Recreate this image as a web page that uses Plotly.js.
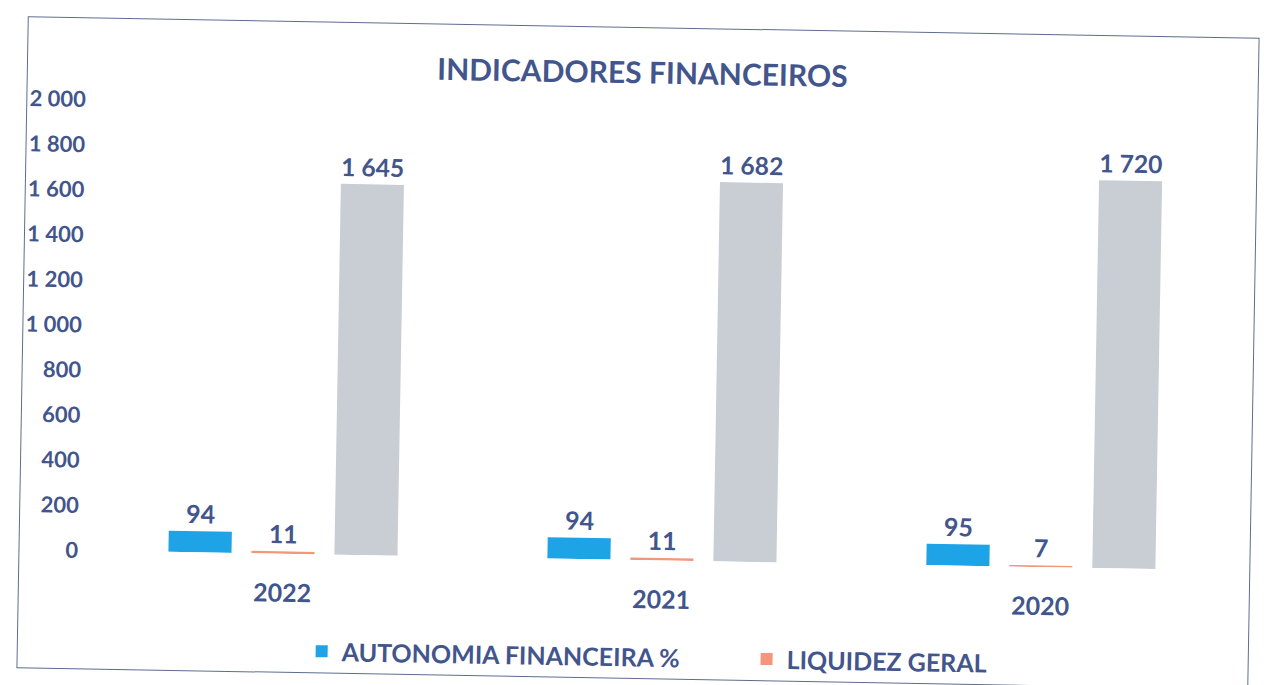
<!DOCTYPE html>
<html>
<head>
<meta charset="utf-8">
<script src="https://cdn.plot.ly/plotly-3.0.1.min.js"></script>
<style>
  html, body { margin: 0; padding: 0; background: #ffffff; width: 1269px; height: 685px; overflow: hidden; }
  #frame {
    position: absolute; left: 22px; top: 27px; width: 1232px; height: 652px;
    border: 1.5px solid #5e6d8e; box-sizing: border-box;
    transform: rotate(1deg); transform-origin: 50% 50%;
    background: #ffffff; overflow: visible;
  }
  #chart { width: 1229px; height: 680px; }
</style>
</head>
<body>
<div id="frame"><div id="chart"></div></div>
<script>
const categories = ["2022", "2021", "2020"];
const autonomia = [94, 94, 95];
const liquidez = [11, 11, 7];
const terceiro = [1645, 1682, 1720];
const yTicks = [0, 200, 400, 600, 800, 1000, 1200, 1400, 1600, 1800, 2000];

const FONT = "Lato, 'Open Sans', sans-serif";
const TXT = "#42558c";

function fmt(v) {
  return String(v).replace(/\B(?=(\d{3})+(?!\d))/g, " ");
}

const labelFont = { family: FONT, size: 25, color: TXT, weight: "bold" };

const traces = [
  {
    type: "bar", name: "AUTONOMIA FINANCEIRA %", x: categories, y: autonomia,
    marker: { color: "#1ea3e6" },
    text: autonomia.map(fmt), textposition: "outside", textfont: labelFont,
    cliponaxis: false
  },
  {
    type: "bar", name: "LIQUIDEZ GERAL", x: categories, y: liquidez,
    marker: { color: "#f2977a" },
    text: liquidez.map(fmt), textposition: "outside", textfont: labelFont,
    cliponaxis: false
  },
  {
    type: "bar", name: "", x: categories, y: terceiro, showlegend: false,
    marker: { color: "#c9ced4" },
    text: terceiro.map(fmt), textposition: "outside", textfont: labelFont,
    cliponaxis: false
  }
];

const layout = {
  width: 1229, height: 680,
  margin: { l: 74, r: 18, t: 81, b: 148 },
  paper_bgcolor: "rgba(0,0,0,0)", plot_bgcolor: "rgba(0,0,0,0)",
  barmode: "group", bargap: 0.343, bargroupgap: 0.24,
  separators: ", ",
  font: { family: FONT, color: TXT },
  title: {
    text: "INDICADORES FINANCEIROS",
    font: { family: FONT, size: 30, color: TXT, weight: "bold" },
    x: 0.5, xanchor: "center", y: 0.934, yanchor: "middle"
  },
  xaxis: {
    type: "category", showgrid: false, showline: false, zeroline: false,
    ticks: "", ticklabelstandoff: 22,
    tickfont: { family: FONT, size: 25, color: TXT, weight: "bold" }
  },
  yaxis: {
    range: [0, 2000], tickvals: yTicks, ticktext: yTicks.map(fmt),
    showgrid: false, showline: false, zeroline: false,
    ticks: "outside", ticklen: 10, tickcolor: "rgba(0,0,0,0)",
    tickfont: { family: FONT, size: 22, color: TXT, weight: "bold" }
  },
  legend: {
    orientation: "h", x: 0.576, xanchor: "center", y: -0.215, yanchor: "middle",
    font: { family: FONT, size: 25, color: TXT, weight: "bold" },
    itemwidth: 30, traceorder: "normal",
    entrywidth: 400, entrywidthmode: "pixels"
  },
  showlegend: true
};

Plotly.newPlot("chart", traces, layout, { displayModeBar: false, staticPlot: true });
</script>
</body>
</html>
